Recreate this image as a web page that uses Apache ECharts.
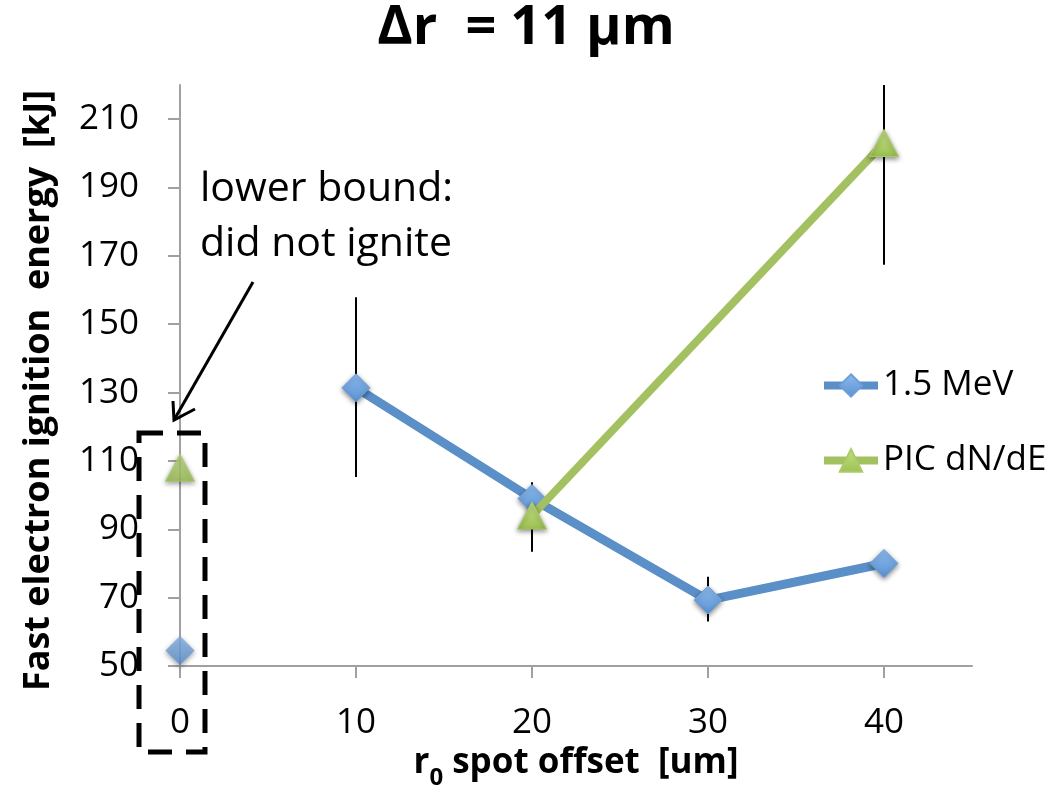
<!DOCTYPE html>
<html><head><meta charset="utf-8">
<script src="https://cdn.jsdelivr.net/npm/echarts@6/dist/echarts.min.js"></script>
<style>html,body{margin:0;padding:0;background:#fff}#c{width:1052px;height:809px}</style>
</head><body><div id="c"></div>
<script>
// ---- data ----
const seriesNames = ['1.5 MeV', 'PIC dN/dE'];
const xTicks = [0, 10, 20, 30, 40];
const yTicks = [50, 70, 90, 110, 130, 150, 170, 190, 210];
const mevX = [10, 20, 30, 40];
const mevEnergy = [131.4, 99, 69.3, 80];
const picX = [20, 40];
const picEnergy = [94, 203];
const lowerBoundX = [0];
const mevLowerBound = [54.5];
const picLowerBound = [108];
const mevErrX = [10, 30];
const mevErrLow = [105.3, 63];
const mevErrHigh = [157.9, 76.1];
const picErrX = [20, 40];
const picErrLow = [83.4, 167.4];
const picErrHigh = [103.8, 238.6];
const annotationLines = ['lower bound:', 'did not ignite'];

// ---- styles ----
const FONT = '"Open Sans", "DejaVu Sans", sans-serif';
const blueLine = '#5A8FC8', greenLine = '#A4C161';
const blueMarker = new echarts.graphic.LinearGradient(0, 0, 0, 1, [
  {offset: 0, color: '#8DBBEE'}, {offset: 1, color: '#5A92D2'}]);
const greenMarker = new echarts.graphic.LinearGradient(0, 0, 0, 1, [
  {offset: 0, color: '#C4E086'}, {offset: 1, color: '#9CC152'}]);
const shadow = {shadowBlur: 5, shadowColor: 'rgba(0,0,0,0.45)', shadowOffsetY: 2};

function zipXY(xs, ys) { return xs.map((x, i) => [x, ys[i]]); }
function zipErr(xs, lo, hi) { return xs.map((x, i) => [x, lo[i], hi[i]]); }

function errRender(params, api) {
  const x = api.value(0), lo = api.value(1), hi = api.value(2);
  const p1 = api.coord([x, lo]);
  const p2 = api.coord([x, hi]);
  const cs = params.coordSys;
  const top = Math.max(p2[1], cs.y);
  const bot = Math.min(p1[1], cs.y + cs.height);
  return {type: 'line', shape: {x1: p1[0], y1: bot, x2: p2[0], y2: top},
          style: {stroke: '#000', lineWidth: 2}};
}

const chart = echarts.init(document.getElementById('c'), null, {renderer: 'canvas'});
const axisGray = '#A0A0A0';
chart.setOption({
  backgroundColor: '#fff',
  animation: false,
  title: {
    text: 'Δr  = 11 μm', left: 'center', top: 2, padding: 0,
    textStyle: {fontFamily: FONT, fontWeight: 'bold', fontSize: 54, color: '#000'}
  },
  legend: {
    data: seriesNames, orient: 'vertical', left: 815, top: 363,
    itemWidth: 54, itemHeight: 28, itemGap: 40,
    lineStyle: {width: 8},
    textStyle: {fontFamily: FONT, fontSize: 35, color: '#000'}
  },
  grid: {left: 180, right: 80, top: 85, bottom: 143, containLabel: false},
  xAxis: {
    type: 'value', min: 0, max: 45, interval: 10,
    name: '{b|r}{s|0}{b| spot offset  [um]}', nameLocation: 'middle', nameGap: 72,
    nameTextStyle: {
      rich: {
        b: {fontFamily: FONT, fontWeight: 'bold', fontSize: 35, color: '#000', verticalAlign: 'bottom'},
        s: {fontFamily: FONT, fontWeight: 'bold', fontSize: 24, color: '#000', verticalAlign: 'bottom', padding: [0, 0, -9, 0]}
      }
    },
    axisLine: {lineStyle: {color: axisGray, width: 2}},
    axisTick: {show: true, inside: false, length: 12, lineStyle: {color: axisGray, width: 2}, customValues: xTicks},
    axisLabel: {fontFamily: FONT, fontSize: 35, color: '#000', margin: 40, customValues: xTicks},
    splitLine: {show: false}
  },
  yAxis: {
    type: 'value', min: 50, max: 220, interval: 20,
    name: 'Fast electron ignition  energy  [kJ]', nameLocation: 'middle', nameGap: 123, nameRotate: 90,
    nameTextStyle: {fontFamily: FONT, fontWeight: 'bold', fontSize: 36, color: '#000', padding: [0, 30, 0, 0]},
    axisLine: {show: true, lineStyle: {color: axisGray, width: 2}},
    axisTick: {show: true, inside: false, length: 12, lineStyle: {color: axisGray, width: 2}, customValues: yTicks},
    axisLabel: {fontFamily: FONT, fontSize: 35, color: '#000', margin: 41, customValues: yTicks, padding: [8, 0, 0, 0]},
    splitLine: {show: false}
  },
  series: [
    {type: 'custom', name: 'mevErr', z: 1, renderItem: errRender, data: zipErr(mevErrX, mevErrLow, mevErrHigh), silent: true},
    {type: 'custom', name: 'picErr', z: 1, renderItem: errRender, data: zipErr(picErrX, picErrLow, picErrHigh), silent: true},
    {
      type: 'line', name: seriesNames[0], z: 3, data: zipXY(mevX, mevEnergy),
      symbol: 'diamond', symbolSize: 28, showAllSymbol: true,
      lineStyle: {color: blueLine, width: 9},
      itemStyle: Object.assign({color: blueMarker, borderColor: '#6C9ED8', borderWidth: 1}, shadow)
    },
    {
      type: 'line', name: seriesNames[1], z: 4, data: zipXY(picX, picEnergy),
      symbol: 'triangle', symbolSize: [29, 27], showAllSymbol: true,
      lineStyle: {color: greenLine, width: 8},
      itemStyle: Object.assign({color: greenMarker, borderColor: '#A9CB67', borderWidth: 1}, shadow)
    },
    {
      type: 'scatter', name: seriesNames[0], z: 3, data: zipXY(lowerBoundX, mevLowerBound),
      symbol: 'diamond', symbolSize: 28,
      itemStyle: Object.assign({color: blueMarker, borderColor: '#6C9ED8', borderWidth: 1}, shadow)
    },
    {
      type: 'scatter', name: seriesNames[1], z: 4, data: zipXY(lowerBoundX, picLowerBound),
      symbol: 'triangle', symbolSize: [29, 27],
      itemStyle: Object.assign({color: greenMarker, borderColor: '#A9CB67', borderWidth: 1}, shadow)
    }
  ],
  graphic: [
    {type: 'text', left: 200, top: 162, z: 10,
     style: {text: annotationLines.join('\n'), font: '41px ' + FONT, fill: '#000', lineHeight: 55}},
    {type: 'rect', z: 10, shape: {x: 139, y: 433, width: 66, height: 319},
     style: {fill: 'none', stroke: '#000', lineWidth: 5, lineDash: [24, 14]}},
    {type: 'polyline', z: 10, shape: {points: [[253, 282], [174, 420]]},
     style: {stroke: '#000', lineWidth: 3}},
    {type: 'polyline', z: 10, shape: {points: [[173, 401], [174, 420], [195, 409]]},
     style: {stroke: '#000', lineWidth: 3, fill: 'none'}}
  ]
});
</script>
</body></html>
